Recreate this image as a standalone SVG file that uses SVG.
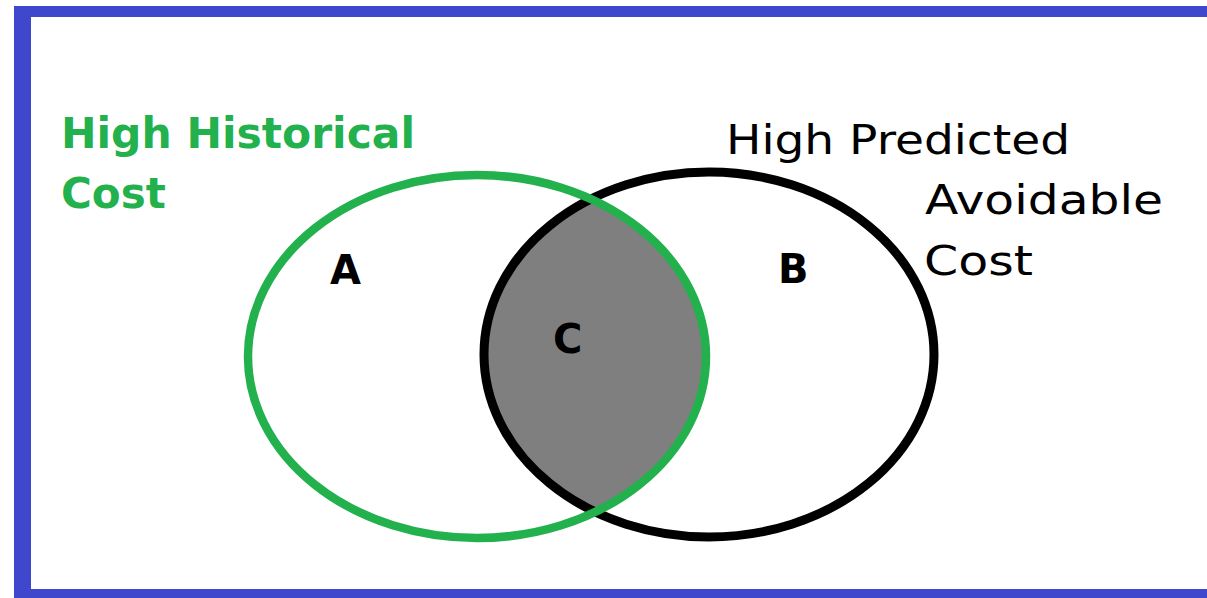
<svg xmlns="http://www.w3.org/2000/svg" width="1207" height="598" viewBox="0 0 1207 598">
  <style>
    .frame { fill: #3F48CC; }
    .title-green { font-family: "DejaVu Sans", Verdana, sans-serif; font-weight: bold; font-size: 42px; fill: #22B14C; }
    .title-black { font-family: "DejaVu Sans", Verdana, sans-serif; font-size: 41px; fill: #000000; }
    .region { font-family: "DejaVu Sans", Verdana, sans-serif; font-weight: bold; font-size: 40px; fill: #000000; }
    .set-a { fill: none; stroke: #22B14C; stroke-width: 8.5; }
    .set-b { fill: none; stroke: #000000; stroke-width: 9; }
  </style>
  <defs>
    <clipPath id="clipB">
      <ellipse cx="709" cy="354.5" rx="225" ry="182.5"/>
    </clipPath>
  </defs>
  <rect width="1207" height="598" fill="#FFFFFF"/>
  <g id="frame">
    <rect class="frame" x="14" y="6" width="1193" height="11"/>
    <rect class="frame" x="14" y="6" width="17" height="592"/>
    <rect class="frame" x="14" y="589" width="1193" height="9"/>
  </g>
  <g id="intersection">
    <ellipse cx="477" cy="356.5" rx="229" ry="181.5" fill="#7F7F7F" clip-path="url(#clipB)"/>
  </g>
  <g id="set-b">
    <ellipse class="set-b" cx="709" cy="354.5" rx="225" ry="182.5"/>
  </g>
  <g id="set-a">
    <ellipse class="set-a" cx="477" cy="356.5" rx="229" ry="181.5"/>
  </g>
  <g id="label-a-title">
    <text class="title-green" x="61" y="148" textLength="354" lengthAdjust="spacingAndGlyphs">High Historical</text>
    <text class="title-green" x="61" y="208">Cost</text>
  </g>
  <g id="label-b-title">
    <text class="title-black" x="726" y="154" textLength="344" lengthAdjust="spacingAndGlyphs">High Predicted</text>
    <text class="title-black" x="925" y="214" textLength="238" lengthAdjust="spacingAndGlyphs">Avoidable</text>
    <text class="title-black" x="924" y="275" textLength="109" lengthAdjust="spacingAndGlyphs">Cost</text>
  </g>
  <g id="regions">
    <text class="region" x="330" y="284">A</text>
    <text class="region" x="778" y="283">B</text>
    <text class="region" x="553" y="353">C</text>
  </g>
</svg>
